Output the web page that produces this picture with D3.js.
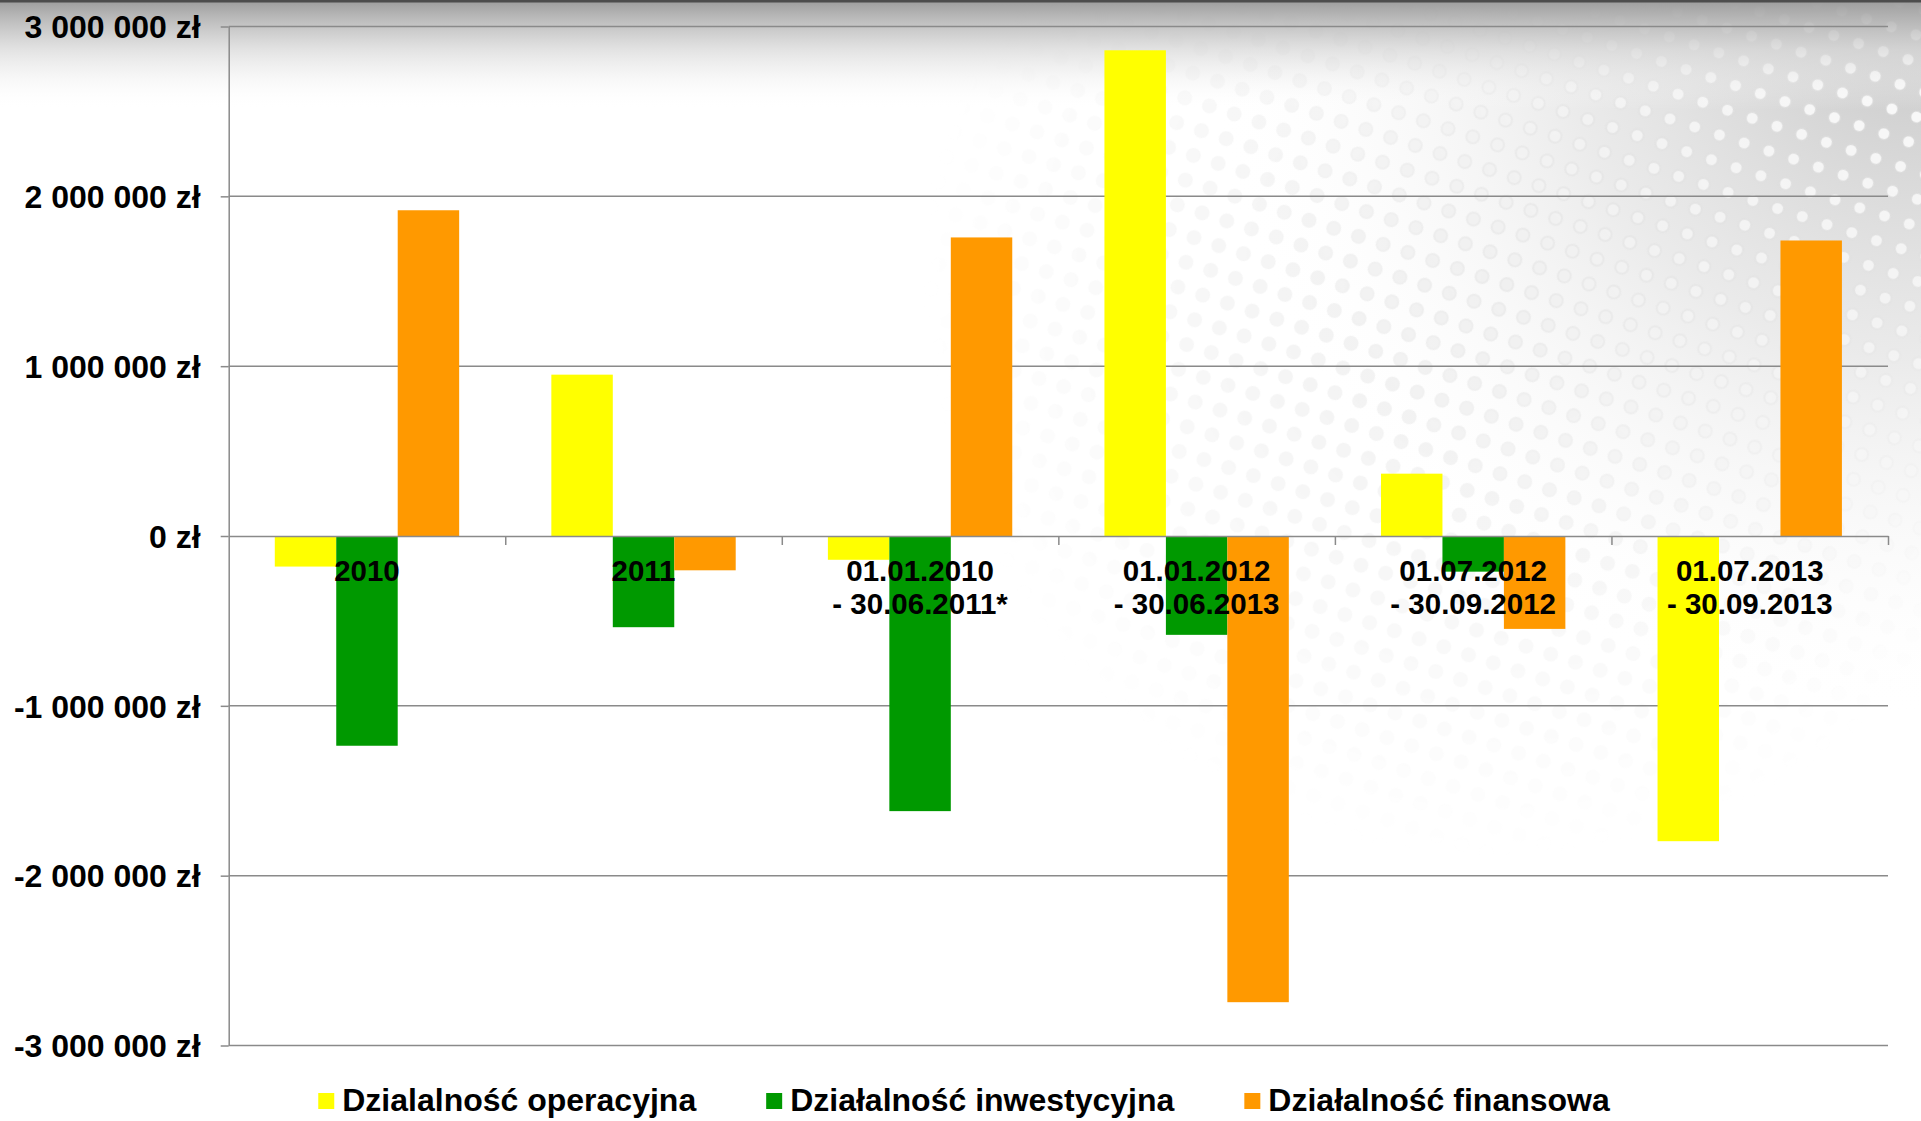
<!DOCTYPE html>
<html>
<head>
<meta charset="utf-8">
<script src="https://cdn.jsdelivr.net/npm/d3@7"></script>
<style>
  body { margin: 0; background: #fff; }
  svg { display: block; }
  text { font-family: "Liberation Sans", Arial, sans-serif; font-weight: bold; fill: #000; }
</style>
</head>
<body>
<script>
// chart data
const categories = ['c2010', 'c2011', 'c2010_11', 'c2012_13', 'cQ3_2012', 'cQ3_2013']
const categoryLabels = [
  ['2010'],
  ['2011'],
  ['01.01.2010', '- 30.06.2011*'],
  ['01.01.2012', '- 30.06.2013'],
  ['01.07.2012', '- 30.09.2012'],
  ['01.07.2013', '- 30.09.2013']
]
const seriesNames = ['Dzialalność operacyjna', 'Działalność inwestycyjna', 'Działalność finansowa']
const operacyjna = [-180000, 950000, -140000, 2860000, 367000, -1797000]
const inwestycyjna = [-1235000, -537000, -1620000, -582000, -210000, 0]
const finansowa = [1918000, -202000, 1758000, -2745000, -547000, 1740000]
const seriesColors = ['#ffff00', '#009900', '#ff9900']
const yTicks = [-3000000, -2000000, -1000000, 0, 1000000, 2000000, 3000000]

const W = 1921, H = 1121
const plotLeft = 228.7, plotRight = 1888, plotTop = 26.5, plotBottom = 1045.5

const svg = d3.select('body').append('svg')
  .attr('width', W)
  .attr('height', H)

// ---- background (grey top fade + halftone dots in the top right corner)
const defs = svg.append('defs')

const topFade = defs.append('linearGradient').attr('id', 'topFade')
  .attr('gradientUnits', 'userSpaceOnUse')
  .attr('x1', 0).attr('y1', 0).attr('x2', 0).attr('y2', 110)
topFade.append('stop').attr('offset', '0%').attr('stop-color', '#9c9c9c').attr('stop-opacity', 1)
topFade.append('stop').attr('offset', '45%').attr('stop-color', '#d6d6d6').attr('stop-opacity', 0.7)
topFade.append('stop').attr('offset', '100%').attr('stop-color', '#ffffff').attr('stop-opacity', 0)

const wash = defs.append('radialGradient').attr('id', 'wash')
  .attr('gradientUnits', 'userSpaceOnUse')
  .attr('cx', 1921).attr('cy', 0).attr('r', 720)
wash.append('stop').attr('offset', '0%').attr('stop-color', '#c4c4c4').attr('stop-opacity', 1)
wash.append('stop').attr('offset', '50%').attr('stop-color', '#e2e2e2').attr('stop-opacity', 0.7)
wash.append('stop').attr('offset', '100%').attr('stop-color', '#ffffff').attr('stop-opacity', 0)

function dotPattern(id, fill, r) {
  const p = defs.append('pattern').attr('id', id)
    .attr('patternUnits', 'userSpaceOnUse')
    .attr('width', 26).attr('height', 26)
    .attr('patternTransform', 'rotate(18)')
  p.append('circle').attr('cx', 13).attr('cy', 13).attr('r', r).attr('fill', fill)
}
dotPattern('dotsWhite', '#ffffff', 5.5)
dotPattern('dotsGrey', '#e0e0e0', 7.5)

function radialMask(id, cx, cy, r, op) {
  const g = defs.append('radialGradient').attr('id', id + 'G')
    .attr('gradientUnits', 'userSpaceOnUse')
    .attr('cx', cx).attr('cy', cy).attr('r', r)
  g.append('stop').attr('offset', '0%').attr('stop-color', '#fff').attr('stop-opacity', op)
  g.append('stop').attr('offset', '100%').attr('stop-color', '#fff').attr('stop-opacity', 0)
  defs.append('mask').attr('id', id)
    .attr('maskUnits', 'userSpaceOnUse')
    .attr('x', 0).attr('y', 0).attr('width', W).attr('height', H)
    .append('rect').attr('width', W).attr('height', H).attr('fill', 'url(#' + id + 'G)')
}
radialMask('maskGrey', 1500, 280, 580, 0.55)
radialMask('maskWhite', 1921, 0, 700, 1)

const bg = svg.append('g')
bg.append('rect').attr('width', W).attr('height', H).attr('fill', '#fff')
bg.append('rect').attr('width', W).attr('height', H).attr('fill', 'url(#wash)')
bg.append('rect').attr('width', W).attr('height', H).attr('fill', 'url(#dotsGrey)').attr('mask', 'url(#maskGrey)')
bg.append('rect').attr('width', W).attr('height', H).attr('fill', 'url(#dotsWhite)').attr('mask', 'url(#maskWhite)')
bg.append('rect').attr('width', W).attr('height', 110).attr('fill', 'url(#topFade)')
bg.append('rect').attr('width', W).attr('height', 2.5).attr('fill', '#4d4d4d')

// ---- scales
const x0 = d3.scaleBand().domain(categories).range([plotLeft, plotRight]).paddingInner(0).paddingOuter(0)
const x1 = d3.scaleBand().domain(d3.range(seriesNames.length)).range([0, x0.bandwidth()])
  .paddingInner(0).paddingOuter(0.75)
const y = d3.scaleLinear().domain([-3000000, 3000000]).range([plotBottom, plotTop])

const locale = d3.formatLocale({ decimal: ',', thousands: ' ', grouping: [3], currency: ['', ' zł'], minus: '-' })
const fmt = locale.format('$,')

// gridlines
svg.append('g').selectAll('line')
  .data(yTicks.filter(d => d !== 0))
  .join('line')
  .attr('x1', plotLeft).attr('x2', plotRight)
  .attr('y1', d => y(d)).attr('y2', d => y(d))
  .attr('stroke', '#8a8a8a').attr('stroke-width', 1.5)

// bars
const seriesValues = [operacyjna, inwestycyjna, finansowa]
const bars = svg.append('g')
seriesValues.forEach((vals, si) => {
  bars.append('g').selectAll('rect')
    .data(vals)
    .join('rect')
    .attr('x', (d, i) => x0(categories[i]) + x1(si))
    .attr('width', x1.bandwidth())
    .attr('y', d => y(Math.max(0, d)))
    .attr('height', d => Math.abs(y(d) - y(0)))
    .attr('fill', seriesColors[si])
})

// y axis
const yAxis = svg.append('g')
  .attr('transform', `translate(${plotLeft},0)`)
  .call(d3.axisLeft(y).tickValues(yTicks).tickSize(8).tickSizeOuter(0).tickPadding(20).tickFormat(fmt))
yAxis.select('.domain').attr('stroke', '#8a8a8a').attr('stroke-width', 1.5)
yAxis.selectAll('.tick line').attr('stroke', '#8a8a8a').attr('stroke-width', 1.5)
yAxis.selectAll('.tick text')
  .attr('font-size', 32)
  .attr('font-family', '"Liberation Sans", Arial, sans-serif')
  .attr('font-weight', 'bold')
  .attr('fill', '#000')
  .attr('dy', '0.35em')

// x axis at zero, ticks between categories
const xb = d3.scaleLinear().domain([0, categories.length]).range([plotLeft, plotRight])
const xAxis = svg.append('g')
  .attr('transform', `translate(0,${y(0)})`)
  .call(d3.axisBottom(xb).tickValues(d3.range(1, categories.length + 1)).tickSize(9).tickSizeOuter(0).tickFormat(''))
xAxis.select('.domain').attr('stroke', '#8a8a8a').attr('stroke-width', 1.5)
xAxis.selectAll('.tick line').attr('stroke', '#8a8a8a').attr('stroke-width', 1.5)

// category labels
const catText = svg.append('g').selectAll('text')
  .data(categories)
  .join('text')
  .attr('text-anchor', 'middle')
  .attr('font-size', 29.5)
catText.each(function (d, i) {
  d3.select(this).selectAll('tspan')
    .data(categoryLabels[i])
    .join('tspan')
    .attr('x', x0(d) + x0.bandwidth() / 2)
    .attr('y', (t, j) => 581 + j * 32.5)
    .text(t => t)
})

// legend
const legend = svg.append('g')
let lx = 0
seriesNames.forEach((name, i) => {
  const g = legend.append('g')
  g.append('rect').attr('x', 0).attr('y', -18).attr('width', 16).attr('height', 16).attr('fill', seriesColors[i])
  const t = g.append('text').attr('x', 24).attr('y', 0).attr('font-size', 32).text(name)
  const w = 24 + t.node().getComputedTextLength()
  g.attr('transform', `translate(${lx},0)`)
  lx += w + 70
})
const legendWidth = lx - 70
legend.attr('transform', `translate(${964 - legendWidth / 2},1111)`)
</script>
</body>
</html>
